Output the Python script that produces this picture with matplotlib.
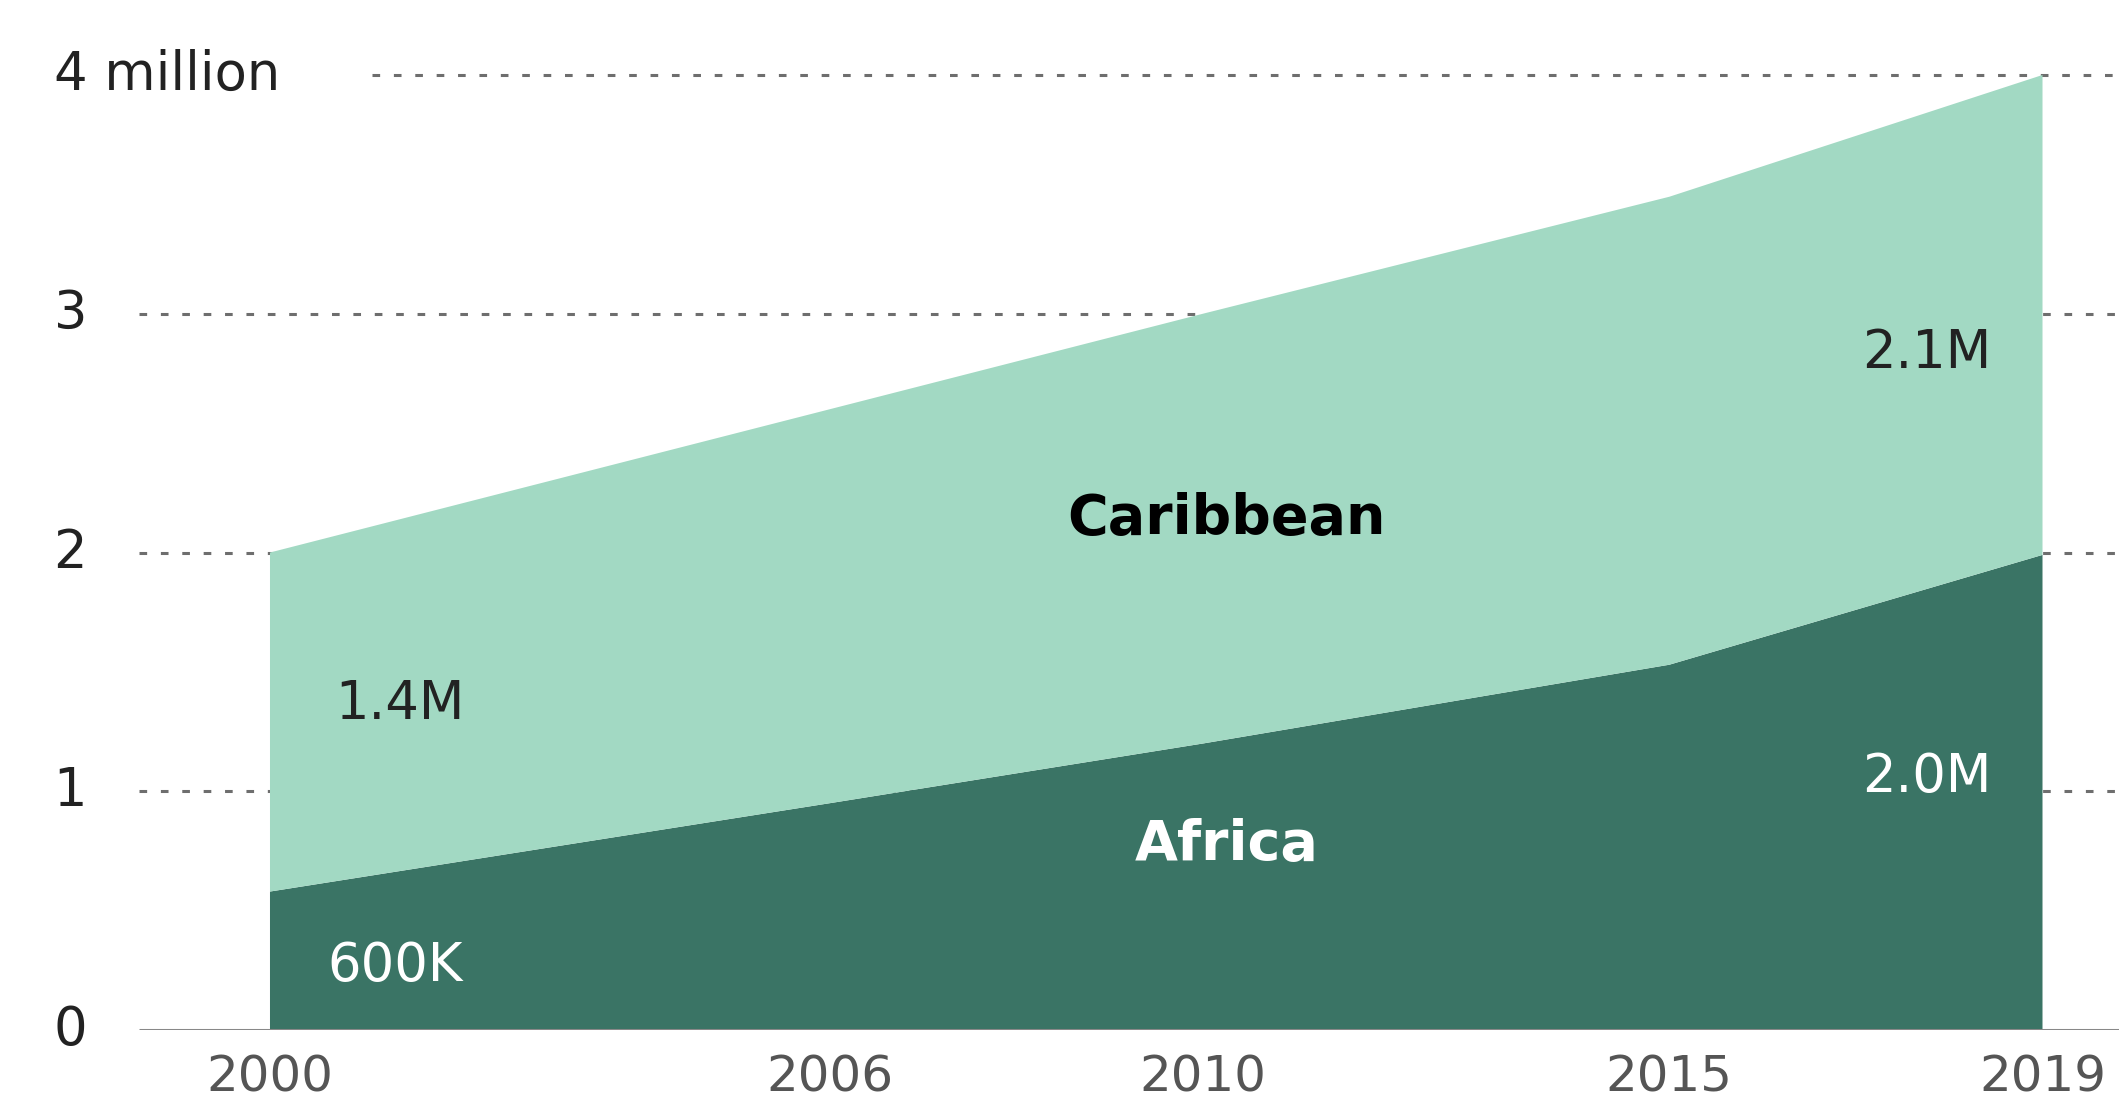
import matplotlib
matplotlib.use("Agg")
import matplotlib.pyplot as plt

# Data (millions)
years = [2000, 2006, 2010, 2015, 2019]
africa = [0.58, 0.95, 1.20, 1.53, 1.99]
caribbean = [1.42, 1.65, 1.80, 1.96, 2.01]

xtick_years = [2000, 2006, 2010, 2015, 2019]
ytick_vals = [0, 1, 2, 3, 4]
ytick_labels = ["0", "1", "2", "3", "4 million"]

dark = "#3a7465"
light = "#a2d9c3"
grid_col = "#6e6e6e"

plt.rcParams["font.family"] = ["DejaVu Sans"]

fig = plt.figure(figsize=(21.19, 11.0), dpi=100)
ax = fig.add_axes([0, 0.0636, 1, 0.9364])
ax.set_xlim(1997.106, 2019.82)
ax.set_ylim(0, 4.314)
ax.axis("off")

# Areas
ax.stackplot(years, africa, caribbean, colors=[dark, light], zorder=2)

# Gridlines and y labels
for val, lab in zip(ytick_vals, ytick_labels):
    ax.text(1997.68, val, lab, ha="left", va="center", fontsize=38, color="#222222")
    if val == 0:
        ax.hlines(0, 1998.6, 2019.82, color="#888888", lw=2.2, zorder=3)
    else:
        start = 2001.09 if val == 4 else 1998.6
        ax.hlines(val, start, 2019.82, color=grid_col, lw=2.2, linestyles=(0, (2.5, 4.5)), zorder=1)

# X labels
for yr in xtick_years:
    ax.text(yr, -0.2, str(yr), ha="center", va="center", fontsize=36, color="#555555", clip_on=False)

# Series labels
ax.text(2010.25, 2.14, "Caribbean", ha="center", va="center", fontsize=40, fontweight="bold", color="black", zorder=4)
ax.text(2010.25, 0.775, "Africa", ha="center", va="center", fontsize=40, fontweight="bold", color="white", zorder=4)

# Value labels
ax.text(years[0] + 0.7, 1.365, "1.4M", ha="left", va="center", fontsize=38, color="#222222", zorder=4)
ax.text(years[0] + 0.62, 0.268, "600K", ha="left", va="center", fontsize=38, color="white", zorder=4)
ax.text(years[-1] - 0.55, 2.836, "2.1M", ha="right", va="center", fontsize=38, color="#222222", zorder=4)
ax.text(years[-1] - 0.55, 1.06, "2.0M", ha="right", va="center", fontsize=38, color="white", zorder=4)

fig.savefig("out.png", dpi=100, facecolor="white")
